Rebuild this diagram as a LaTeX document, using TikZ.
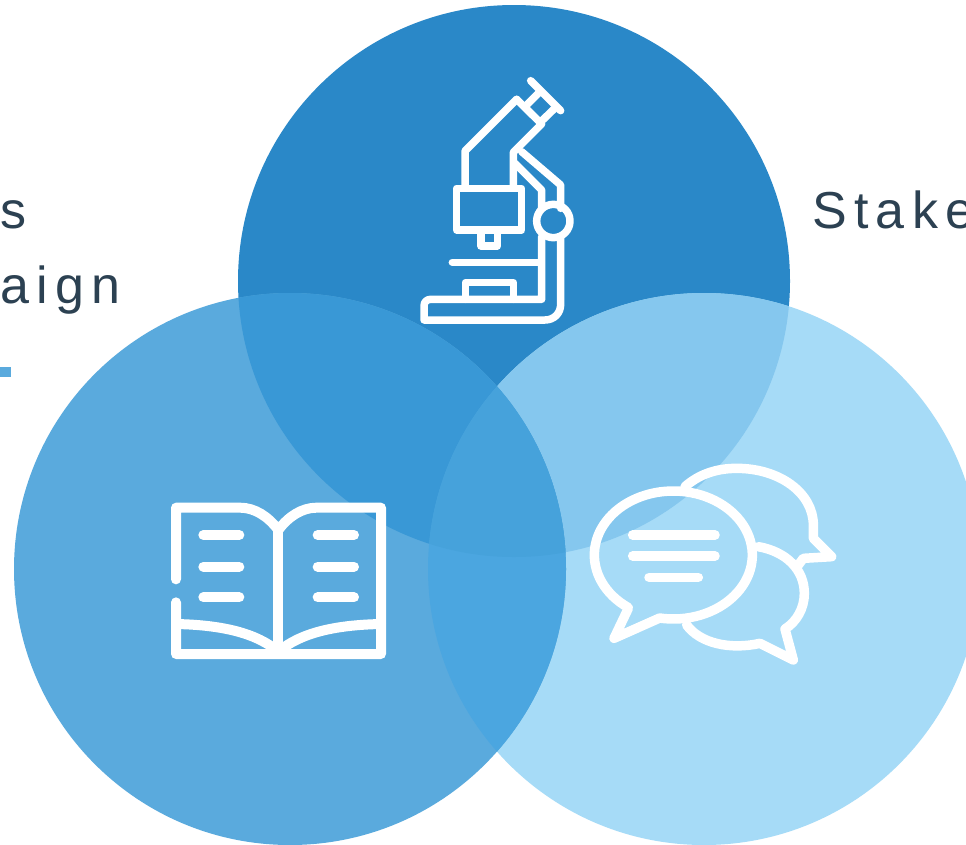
\documentclass[tikz,border=0pt]{standalone}
\usepackage{fontspec}
\setmainfont{Liberation Sans}
\definecolor{cTop}{HTML}{2A88C8}
\definecolor{cLeft}{HTML}{5AAADD}
\definecolor{cRight}{HTML}{A6DBF7}
\definecolor{cTL}{HTML}{3998D6}
\definecolor{cTR}{HTML}{85C7EE}
\definecolor{cLR}{HTML}{4BA6E0}
\definecolor{cTLR}{HTML}{46A2DB}
\definecolor{cText}{HTML}{2C4152}
\tikzset{
  lbl/.style={anchor=base west,inner sep=0pt,text=cText,font=\fontsize{52}{60}\selectfont\addfontfeature{LetterSpace=14}},
  icon/.style={draw=white,line cap=round,line join=round,fill=none},
  mic/.style={icon,line width=7.5pt},
  bk/.style={icon,line width=10pt},
  sp/.style={icon,line width=9.5pt}
}
\newcommand{\circT}{(514,281) circle[radius=276]}
\newcommand{\circL}{(290,569) circle[radius=276]}
\newcommand{\circR}{(704,569) circle[radius=276]}
\begin{document}
\begin{tikzpicture}[x=1pt,y=-1pt]
\clip (0,0) rectangle (966,844);
\fill[white] (0,0) rectangle (966,844);
% circles
\fill[cTop] \circT;
\fill[cRight] \circR;
\fill[cLeft] \circL;
\begin{scope}\clip \circT; \fill[cTR] \circR; \fill[cTL] \circL; \end{scope}
\begin{scope}\clip \circL; \fill[cLR] \circR; \clip \circR; \fill[cTLR] \circT; \end{scope}
% texts
\node[lbl] (t1) at (0,228) {s};
\node[lbl] (t2) at (0,303) {aign};
\node[lbl] (t3) at (812,228) {Stake};
\fill[cLeft] (0,367) rectangle (11,377);
% microscope
\begin{scope}[shift={(400,60)},x=1pt/3,y=-1pt/3]
\draw[mic] (392,62) -- (482,152);
\draw[mic] (415,100) -- (382,133) (462,147) -- (428,180);
\draw[mic] (350,118) -- (425,192) -- (340,277) -- (340,380);
\draw[mic] (350,118) -- (195,273) -- (195,380);
\draw[mic] (170,385) rectangle (365,510);
\draw[mic] (243,510) -- (243,558) -- (292,558) -- (292,510);
\draw[mic] (157,607) -- (420,607);
\draw[mic] (365,275) -- (482,375) -- (482,445);
\draw[mic] (345,310) -- (425,390) -- (425,445);
\draw[mic] (460,483) circle[radius=50];
\draw[mic] (425,530) -- (425,718) -- (92,718) .. controls (80,718) and (72,726) .. (72,738) -- (72,780) -- (435,780) .. controls (462,780) and (482,760) .. (482,733) -- (482,530);
\draw[mic] (196,718) -- (196,668) -- (340,668) -- (340,718);
\end{scope}
% book
\begin{scope}[shift={(150,480)},x=1pt/3,y=-1pt/3]
\draw[bk] (78,298) -- (78,83) -- (270,83) .. controls (315,83) and (355,110) .. (385,150) .. controls (415,110) and (455,83) .. (500,83) -- (693,83) -- (693,522) -- (78,522) -- (78,367);
\draw[bk] (385,150) -- (385,515);
\draw[bk] (78,432) .. controls (220,435) and (320,460) .. (385,515) .. controls (450,460) and (550,435) .. (693,432);
\foreach \yy in {165,260,352}{
  \draw[bk] (160,\yy) -- (268,\yy);
  \draw[bk] (503,\yy) -- (612,\yy);
}
\end{scope}
% speech bubbles
\begin{scope}[shift={(570,450)},x=1pt/3,y=-1pt/3]
\draw[sp] (132,565) -- (175,475) -- plot[domain=125:460,samples=90] ({310+237*cos(\x)},{315+192*sin(\x)}) -- cycle;
\draw[sp] (345,110) .. controls (390,70) and (445,55) .. (500,55) .. controls (630,55) and (730,130) .. (730,225) -- (730,265) -- (785,320) -- (700,325) -- (685,345);
\draw[sp] (565,290) .. controls (650,305) and (703,360) .. (703,430) .. controls (703,475) and (680,515) .. (645,537) -- (670,630) -- (570,580) .. controls (480,600) and (390,580) .. (350,525);
\draw[sp] (188,255) -- (435,255);
\draw[sp] (188,318) -- (435,318);
\draw[sp] (237,382) -- (385,382);
\end{scope}
\end{tikzpicture}
\end{document}
